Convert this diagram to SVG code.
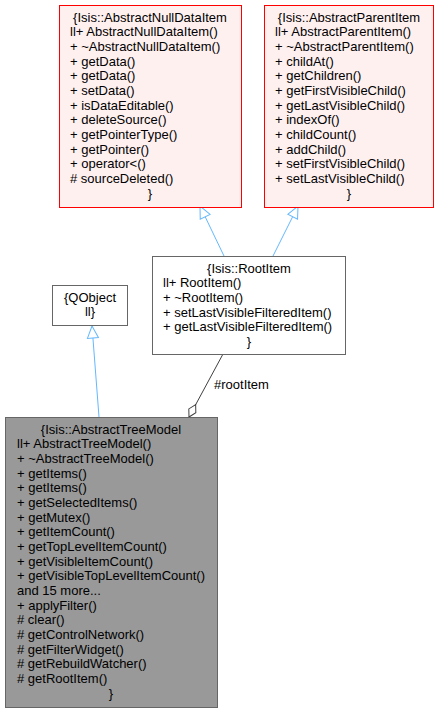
<svg xmlns="http://www.w3.org/2000/svg" width="438" height="712" viewBox="0 0 438 712">
<style>
text { font-family: "Liberation Sans", Arial, sans-serif; font-size: 13px; fill: #000000; }
.mid { text-anchor: middle; }
.red { fill: #fff0f0; stroke: #ff0000; stroke-width: 1; }
.grey { fill: #ffffff; stroke: #666666; stroke-width: 1; }
.cur { fill: #999999; stroke: #666666; stroke-width: 1; }
.inh { fill: none; stroke: #63b8ff; stroke-width: 1; marker-end: url(#tri); }
.comp { fill: none; stroke: #404040; stroke-width: 1; marker-end: url(#dia); }
</style>
<defs>
<marker id="tri" markerUnits="userSpaceOnUse" viewBox="-1 -1 14 13" markerWidth="14" markerHeight="13" refX="12" refY="5.5" orient="auto">
<path d="M0,0 L12,5.5 L0,11 Z" fill="#ffffff" stroke="#63b8ff" stroke-width="1"/>
</marker>
<marker id="dia" markerUnits="userSpaceOnUse" viewBox="-1 -1 16 10" markerWidth="16" markerHeight="10" refX="14" refY="4" orient="auto">
<path d="M0,4 L7,0 L14,4 L7,8 Z" fill="#ffffff" stroke="#404040" stroke-width="1"/>
</marker>
</defs>

<g id="connectors">
<path class="inh" d="M224,256 L200,206"/>
<path class="inh" d="M273,256 L298,206"/>
<path class="inh" d="M99,417 L92,326"/>
<path class="comp" d="M223,354 L189,417"/>
<text x="214" y="389">#rootItem</text>
</g>

<g id="node_AbstractNullDataItem">
<rect class="red" x="59.5" y="5.5" width="182" height="202"/>
<text class="mid" x="150" y="21.7">{Isis::AbstractNullDataItem</text>
<text x="70" y="36.37">ll+ AbstractNullDataItem()</text>
<text x="70" y="51.04">+ ~AbstractNullDataItem()</text>
<text x="70" y="65.71">+ getData()</text>
<text x="70" y="80.38">+ getData()</text>
<text x="70" y="95.05">+ setData()</text>
<text x="70" y="109.72">+ isDataEditable()</text>
<text x="70" y="124.39">+ deleteSource()</text>
<text x="70" y="139.06">+ getPointerType()</text>
<text x="70" y="153.73">+ getPointer()</text>
<text x="70" y="168.4">+ operator&lt;()</text>
<text x="70" y="183.07"># sourceDeleted()</text>
<text class="mid" x="150" y="197.74">}</text>
</g>

<g id="node_AbstractParentItem">
<rect class="red" x="264.5" y="5.5" width="169" height="202"/>
<text class="mid" x="349" y="21.7">{Isis::AbstractParentItem</text>
<text x="275" y="36.37">ll+ AbstractParentItem()</text>
<text x="275" y="51.04">+ ~AbstractParentItem()</text>
<text x="275" y="65.71">+ childAt()</text>
<text x="275" y="80.38">+ getChildren()</text>
<text x="275" y="95.05">+ getFirstVisibleChild()</text>
<text x="275" y="109.72">+ getLastVisibleChild()</text>
<text x="275" y="124.39">+ indexOf()</text>
<text x="275" y="139.06">+ childCount()</text>
<text x="275" y="153.73">+ addChild()</text>
<text x="275" y="168.4">+ setFirstVisibleChild()</text>
<text x="275" y="183.07">+ setLastVisibleChild()</text>
<text class="mid" x="349" y="197.74">}</text>
</g>

<g id="node_RootItem">
<rect class="grey" x="152.5" y="256.5" width="193" height="98"/>
<text class="mid" x="249" y="272.7">{Isis::RootItem</text>
<text x="163" y="287.37">ll+ RootItem()</text>
<text x="163" y="302.04">+ ~RootItem()</text>
<text x="163" y="316.71">+ setLastVisibleFilteredItem()</text>
<text x="163" y="331.38">+ getLastVisibleFilteredItem()</text>
<text class="mid" x="249" y="346.05">}</text>
</g>

<g id="node_QObject">
<rect class="grey" x="52.5" y="285.5" width="75" height="40"/>
<text class="mid" x="90" y="301.7">{QObject</text>
<text class="mid" x="90" y="316.37">ll}</text>
</g>

<g id="node_AbstractTreeModel">
<rect class="cur" x="5.5" y="417.5" width="212" height="290"/>
<text class="mid" x="111" y="433.7">{Isis::AbstractTreeModel</text>
<text x="17" y="448.37">ll+ AbstractTreeModel()</text>
<text x="17" y="463.04">+ ~AbstractTreeModel()</text>
<text x="17" y="477.71">+ getItems()</text>
<text x="17" y="492.38">+ getItems()</text>
<text x="17" y="507.05">+ getSelectedItems()</text>
<text x="17" y="521.72">+ getMutex()</text>
<text x="17" y="536.39">+ getItemCount()</text>
<text x="17" y="551.06">+ getTopLevelItemCount()</text>
<text x="17" y="565.73">+ getVisibleItemCount()</text>
<text x="17" y="580.4">+ getVisibleTopLevelItemCount()</text>
<text x="17" y="595.07">and 15 more...</text>
<text x="17" y="609.74">+ applyFilter()</text>
<text x="17" y="624.41"># clear()</text>
<text x="17" y="639.08"># getControlNetwork()</text>
<text x="17" y="653.75"># getFilterWidget()</text>
<text x="17" y="668.42"># getRebuildWatcher()</text>
<text x="17" y="683.09"># getRootItem()</text>
<text class="mid" x="111" y="697.76">}</text>
</g>
</svg>
